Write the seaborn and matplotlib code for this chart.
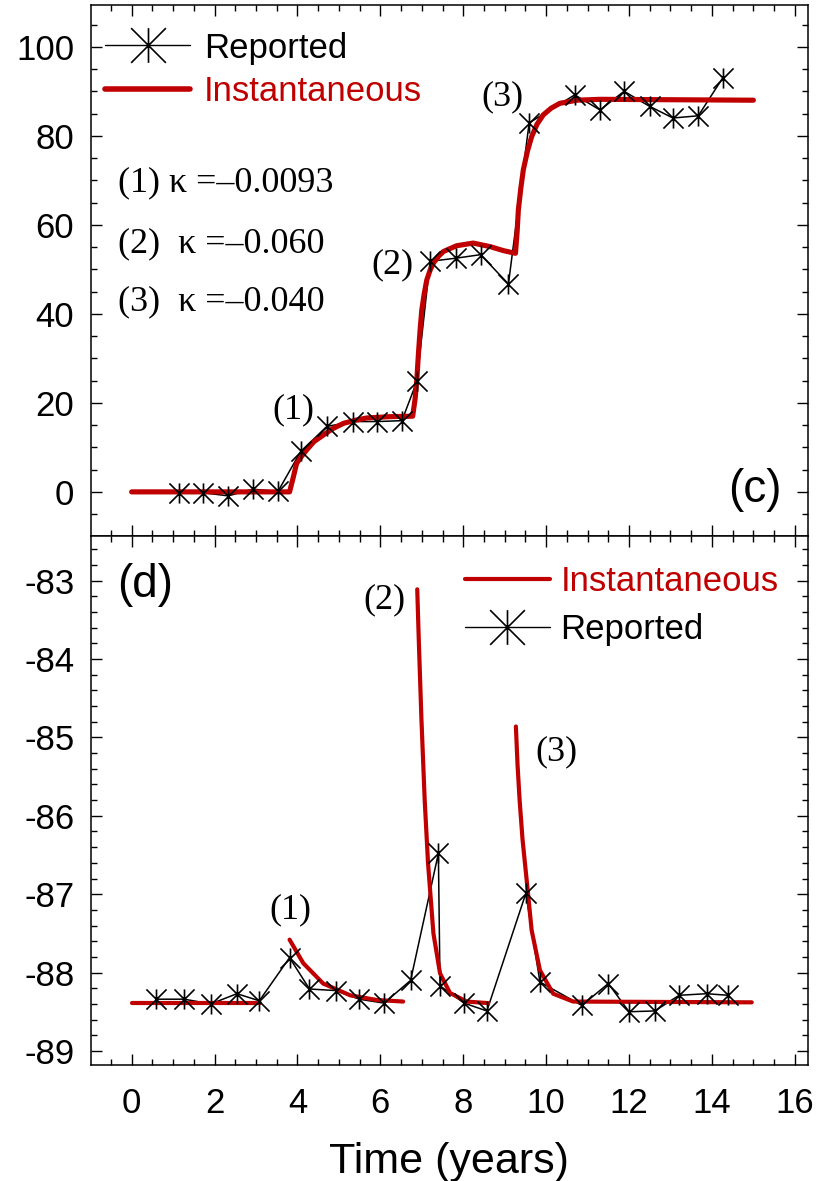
import numpy as np
import pandas as pd
import matplotlib
matplotlib.use("Agg")
import matplotlib.pyplot as plt
import seaborn as sns
from matplotlib.path import Path
from matplotlib.lines import Line2D
from matplotlib.ticker import MultipleLocator

# ---------------- data ----------------
top_rep_x = [1.15, 1.73, 2.33, 2.92, 3.53, 4.08, 4.71, 5.35, 5.93, 6.52, 6.88,
             7.20, 7.82, 8.42, 9.09, 9.59, 10.69, 11.30, 11.88, 12.50, 13.06, 13.67, 14.26]
top_rep_y = [-0.2, -0.2, -0.9, 0.6, 0.1, 9.1, 14.7, 15.8, 15.8, 16.0, 24.8,
             51.8, 52.5, 53.3, 46.7, 82.9, 89.2, 85.8, 90.0, 86.6, 84.0, 84.5, 93.0]

top_inst_x = [0.0, 3.81, 3.90, 3.98, 4.10, 4.22, 4.40, 4.63, 4.85, 5.11, 5.40, 5.67,
              6.23, 6.78, 6.84, 6.88, 6.92, 6.96, 7.00, 7.06, 7.12, 7.20, 7.28, 7.40,
              7.52, 7.84, 8.24, 8.65, 8.97, 9.26, 9.30, 9.33, 9.39, 9.45, 9.55, 9.65,
              9.78, 9.93, 10.12, 10.33, 10.74, 11.30, 15.0]
top_inst_y = [0.0, 0.0, 3.3, 6.4, 8.0, 9.4, 11.3, 12.8, 14.2, 15.4, 16.1, 16.6,
              16.9, 17.0, 21.0, 25.2, 31.2, 36.5, 40.9, 44.6, 47.6, 49.8, 51.4, 52.9,
              54.0, 55.3, 55.9, 55.1, 54.2, 53.6, 58.5, 63.4, 68.3, 72.4, 76.6, 79.8,
              82.6, 84.7, 86.2, 87.3, 88.0, 88.2, 88.0]

bot_rep_x = [0.59, 1.27, 1.91, 2.54, 3.08, 3.81, 4.29, 4.93, 5.49, 6.09, 6.73, 7.40,
             7.44, 8.02, 8.57, 9.51, 9.85, 10.86, 11.50, 12.00, 12.62, 13.21, 13.87, 14.39]
bot_rep_y = [-88.34, -88.34, -88.40, -88.27, -88.36, -87.81, -88.21, -88.23, -88.34,
             -88.39, -88.10, -86.48, -88.17, -88.39, -88.49, -86.99, -88.12, -88.42,
             -88.14, -88.50, -88.49, -88.29, -88.27, -88.29]

bot_inst_seg = [0, 0,
                1, 1, 1, 1, 1, 1,
                2, 2, 2, 2, 2, 2, 2, 2, 2, 2,
                3, 3, 3, 3, 3, 3, 3, 3, 3, 3]
bot_inst_x = [0.0, 3.10,
              3.81, 4.14, 4.62, 5.27, 5.91, 6.55,
              6.89, 6.93, 6.99, 7.07, 7.15, 7.28, 7.44, 7.68, 8.08, 8.60,
              9.27, 9.31, 9.36, 9.43, 9.53, 9.65, 9.85, 10.17, 10.65, 14.96]
bot_inst_y = [-88.39, -88.39,
              -87.58, -87.88, -88.14, -88.29, -88.35, -88.37,
              -83.11, -83.80, -84.75, -85.80, -86.60, -87.50, -88.01, -88.26, -88.37, -88.39,
              -84.86, -85.35, -85.80, -86.30, -86.82, -87.46, -87.97, -88.27, -88.37, -88.38]

kappa_labels = ["(1) \u03ba =\u20130.0093", "(2)  \u03ba =\u20130.060", "(3)  \u03ba =\u20130.040"]
kappa_y = [69.4, 55.7, 42.7]
event_labels = ["(1)", "(2)", "(3)"]
top_event_x = [3.90, 6.28, 8.94]
top_event_y = [18.4, 51.0, 88.8]
bot_event_x = [3.82, 6.11, 10.26]
bot_event_y = [-87.20, -83.24, -85.18]

x_ticks = [0, 2, 4, 6, 8, 10, 12, 14, 16]

# ---------------- style ----------------
sns.set_theme(style="ticks")
plt.rcParams["font.family"] = ["Liberation Sans", "DejaVu Sans"]
plt.rcParams["axes.linewidth"] = 1.1
plt.rcParams["text.color"] = "black"
plt.rcParams["axes.labelcolor"] = "black"
plt.rcParams["xtick.color"] = "black"
plt.rcParams["ytick.color"] = "black"
plt.rcParams["xtick.labelcolor"] = "black"
plt.rcParams["ytick.labelcolor"] = "black"

RED = "#C00000"
star = Path([(0, -1), (0, 1), (-1, -1), (1, 1), (-1, 1), (1, -1)],
            [Path.MOVETO, Path.LINETO, Path.MOVETO, Path.LINETO, Path.MOVETO, Path.LINETO])

df_top_rep = pd.DataFrame({"x": top_rep_x, "y": top_rep_y})
df_top_inst = pd.DataFrame({"x": top_inst_x, "y": top_inst_y})
df_bot_rep = pd.DataFrame({"x": bot_rep_x, "y": bot_rep_y})
df_bot_inst = pd.DataFrame({"x": bot_inst_x, "y": bot_inst_y, "seg": bot_inst_seg})

fig = plt.figure(figsize=(8.2, 11.81), dpi=100)
ax1 = fig.add_axes([0.111, 0.5462, 0.874, 0.4496])
ax2 = fig.add_axes([0.111, 0.0982, 0.874, 0.4479])

TICK_FS = 25
SERIF = ["Liberation Serif", "DejaVu Serif"]


def draw_reported(ax, df):
    sns.lineplot(data=df, x="x", y="y", ax=ax, color="black", lw=1.1,
                 sort=False, estimator=None, zorder=2, legend=False)
    sns.scatterplot(data=df, x="x", y="y", ax=ax, marker=star, s=14.5 ** 2,
                    color="black", edgecolor="black", linewidth=1.2, zorder=4,
                    legend=False)


# ---- top panel (c)
draw_reported(ax1, df_top_rep)
sns.lineplot(data=df_top_inst, x="x", y="y", ax=ax1, color=RED, lw=3.7,
             sort=False, estimator=None, zorder=3, legend=False)
ax1.set_xlim(-0.98, 16.31)
ax1.set_ylim(-9.9, 109.4)
ax1.yaxis.set_major_locator(MultipleLocator(20))
ax1.yaxis.set_minor_locator(MultipleLocator(5))

for t, x, y in zip(event_labels, top_event_x, top_event_y):
    ax1.text(x, y, t, fontsize=26, family=SERIF, ha="center", va="center", color="black")
for t, y in zip(kappa_labels, kappa_y):
    ax1.text(-0.33, y, t, fontsize=26, family=SERIF, ha="left", va="center", color="black")
ax1.text(15.04, 0.45, "(c)", fontsize=33, ha="center", va="center", color="black")

h_rep = Line2D([0], [0], color="black", lw=1.0, marker=star, ms=25, mew=1.2,
               mec="black")
h_inst = Line2D([0], [0], color=RED, lw=4.0)
leg1 = ax1.legend([h_rep, h_inst], ["Reported", "Instantaneous"], loc="upper left",
                  bbox_to_anchor=(0.0195, 0.950), frameon=False, fontsize=25,
                  handlelength=2.45, handletextpad=0.40, labelspacing=0.3,
                  borderpad=0, borderaxespad=0)
leg1.get_texts()[0].set_color("black")
leg1.get_texts()[1].set_color(RED)

# ---- bottom panel (d)
draw_reported(ax2, df_bot_rep)
sns.lineplot(data=df_bot_inst, x="x", y="y", units="seg", ax=ax2, color=RED,
             lw=3.0, sort=False, estimator=None, zorder=3, legend=False)
ax2.set_xlim(-0.98, 16.31)
ax2.set_ylim(-89.18, -82.43)
ax2.yaxis.set_major_locator(MultipleLocator(1))
ax2.yaxis.set_minor_locator(MultipleLocator(0.2))
ax2.yaxis.set_major_formatter(matplotlib.ticker.FuncFormatter(lambda v, p: f"{v:.0f}"))

for t, x, y in zip(event_labels, bot_event_x, bot_event_y):
    ax2.text(x, y, t, fontsize=26, family=SERIF, ha="center", va="center", color="black")
ax2.text(0.33, -83.05, "(d)", fontsize=33, ha="center", va="center", color="black")

h_inst2 = Line2D([0], [0], color=RED, lw=3.0)
leg2 = ax2.legend([h_inst2, h_rep], ["Instantaneous", "Reported"], loc="upper left",
                  bbox_to_anchor=(0.5216, 0.945), frameon=False, fontsize=25,
                  handlelength=2.45, handletextpad=0.3, labelspacing=0.44,
                  borderpad=0, borderaxespad=0)
leg2.get_texts()[0].set_color(RED)
leg2.get_texts()[1].set_color("black")

for ax in (ax1, ax2):
    ax.set_xticks(x_ticks)
    ax.xaxis.set_minor_locator(MultipleLocator(0.5))
    ax.tick_params(which="both", direction="in", top=True, right=True,
                   labelsize=TICK_FS, width=1.0, colors="black")
    ax.tick_params(which="major", length=8, pad=12)
    ax.tick_params(which="minor", length=4.5)
    ax.set_xlabel("")
    ax.set_ylabel("")
    for s in ax.spines.values():
        s.set_visible(True)
        s.set_color("black")

ax1.tick_params(axis="x", labelbottom=False)
ax2.tick_params(axis="x", which="major", pad=16)
ax2.set_xlabel("Time (years)", fontsize=31, labelpad=16, color="black")

fig.savefig("out.png", dpi=100)
